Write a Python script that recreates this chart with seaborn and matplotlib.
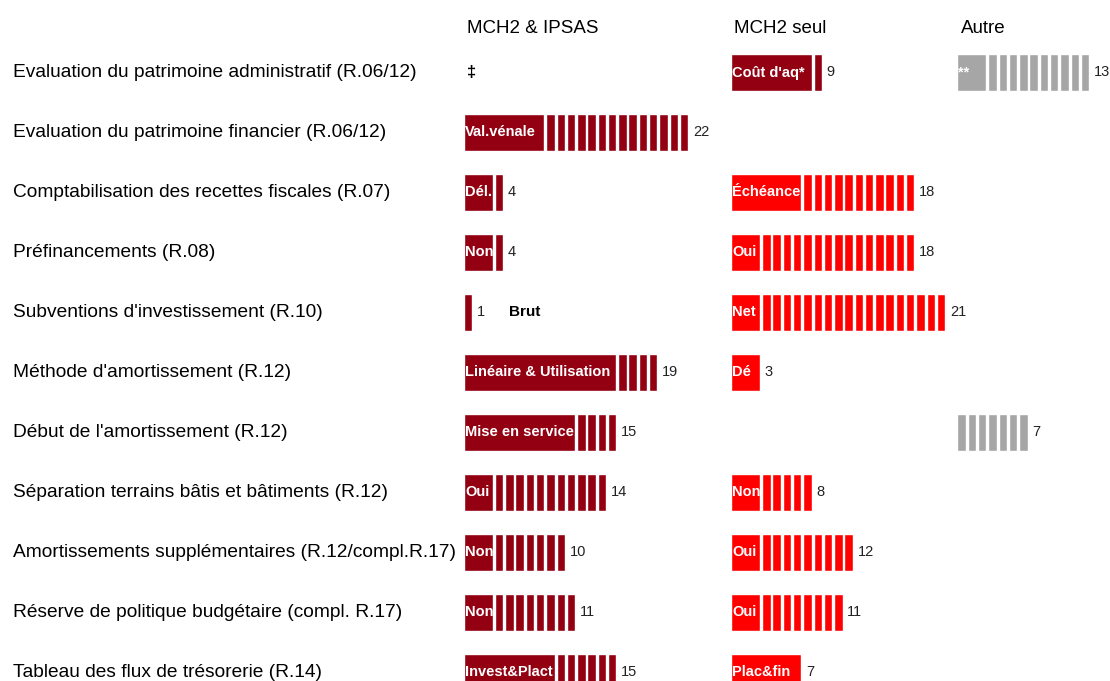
import matplotlib
matplotlib.use('Agg')
import matplotlib.pyplot as plt
import seaborn as sns

# 数据
rows = [
    "Evaluation du patrimoine administratif (R.06/12)",
    "Evaluation du patrimoine financier (R.06/12)",
    "Comptabilisation des recettes fiscales (R.07)",
    "Préfinancements (R.08)",
    "Subventions d'investissement (R.10)",
    "Méthode d'amortissement (R.12)",
    "Début de l'amortissement (R.12)",
    "Séparation terrains bâtis et bâtiments (R.12)",
    "Amortissements supplémentaires (R.12/compl.R.17)",
    "Réserve de politique budgétaire (compl. R.17)",
    "Tableau des flux de trésorerie (R.14)",
]
groups = ["MCH2 & IPSAS", "MCH2 seul", "Autre"]

ipsas_counts = [0, 22, 4, 4, 1, 19, 15, 14, 10, 11, 15]
ipsas_labels = ["", "Val.vénale", "Dél.", "Non", "", "Linéaire & Utilisation",
                "Mise en service", "Oui", "Non", "Non", "Invest&Plact"]
ipsas_merge = [0, 8, 3, 3, 1, 15, 11, 3, 3, 3, 9]

seul_counts = [9, 0, 18, 18, 21, 3, 0, 8, 12, 11, 7]
seul_labels = ["Coût d'aq*", "", "Échéance", "Oui", "Net", "Dé", "",
               "Non", "Oui", "Oui", "Plac&fin"]
seul_merge = [8, 0, 7, 3, 3, 3, 0, 3, 3, 3, 7]

autre_counts = [13, 0, 0, 0, 0, 0, 7, 0, 0, 0, 0]
autre_labels = ["**", "", "", "", "", "", "", "", "", "", ""]
autre_merge = [3, 0, 0, 0, 0, 0, 1, 0, 0, 0, 0]

# 不放进柱子里的注释
notes = {(0, 0): "‡", (4, 0): "Brut"}

DARK = "#930011"
RED = "#FF0000"
GREY = "#A6A6A6"
seul_colors = [DARK] + [RED] * 10

sns.set_theme(style="white")
plt.rcParams['font.family'] = ['Liberation Sans', 'DejaVu Sans']

fig = plt.figure(figsize=(11.1, 6.81), dpi=100)
ax = fig.add_axes([0, 0, 1, 1])

offsets = [0, 26, 48]
unit_w = 0.82
bar_h = 0.62

cols = [
    (ipsas_counts, ipsas_labels, ipsas_merge, [DARK] * 11),
    (seul_counts, seul_labels, seul_merge, seul_colors),
    (autre_counts, autre_labels, autre_merge, [GREY] * 11),
]

for c, (counts, labels, merge, colors) in enumerate(cols):
    x0 = offsets[c]
    for i, n in enumerate(counts):
        if n == 0:
            continue
        k = merge[i]
        # 合并的第一段（带文字）
        ax.barh(i, k - (1 - unit_w), left=x0, height=bar_h, color=colors[i])
        for j in range(k, n):
            ax.barh(i, unit_w, left=x0 + j, height=bar_h, color=colors[i])
        if labels[i]:
            ax.text(x0 + 0.1, i, labels[i], color="white", fontsize=10.5,
                    fontweight="bold", va="center", ha="left")
        ax.text(x0 + n - 1 + unit_w + 0.45, i, str(n), fontsize=10.5,
                va="center", ha="left", color="#222222")

for (i, c), t in notes.items():
    xx = offsets[c] + (0.3 if t == "‡" else 4.4)
    ax.text(xx, i, t, fontsize=12 if t == "‡" else 11, fontweight="bold",
            va="center", ha="left", color="black")

for i, r in enumerate(rows):
    ax.text(-43.9, i, r, fontsize=13.8, va="center", ha="left", color="black")

for c, g in enumerate(groups):
    ax.text(offsets[c] + 0.3, -0.74, g, fontsize=13.5, va="center", ha="left",
            color="black")

ax.set_xlim(-464 / 10.28, (1110 - 464) / 10.28)
ax.set_ylim((681 - 72.5) / 60, -72.5 / 60)
ax.axis('off')

plt.savefig('out.png', dpi=100)
